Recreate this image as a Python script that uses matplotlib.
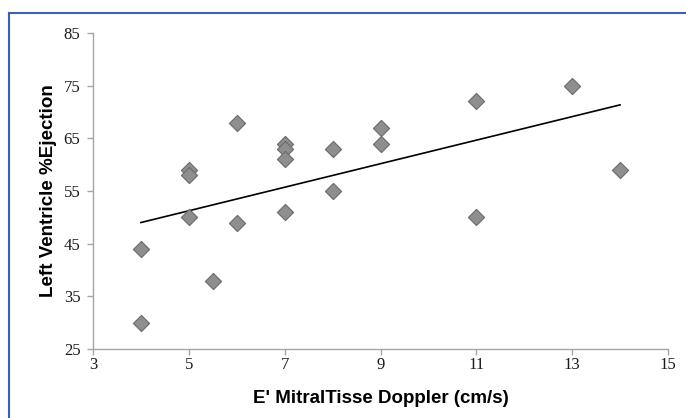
import numpy as np
import matplotlib
matplotlib.use("Agg")
import matplotlib.pyplot as plt
from matplotlib.lines import Line2D

# Data
e_mitral = [4, 4, 5, 5, 5, 5.5, 6, 6, 7, 7, 7, 7, 8, 8, 9, 9, 11, 11, 13, 14]
lv_ef = [44, 30, 59, 58, 50, 38, 68, 49, 64, 63, 61, 51, 63, 55, 67, 64, 72, 50, 75, 59]
x_ticks = [3, 5, 7, 9, 11, 13, 15]
y_ticks = [25, 35, 45, 55, 65, 75, 85]

fig = plt.figure(figsize=(6.86, 4.18), dpi=100)
ax = fig.add_axes([93/686, 1-349/418, (668-93)/686, (349-33)/418])

ax.scatter(e_mitral, lv_ef, marker='D', s=68, facecolor='#8e8e8e',
           edgecolor='#6a6a6a', linewidth=0.8, zorder=3)

# linear trendline
coef = np.polyfit(e_mitral, lv_ef, 1)
xt = np.array([min(e_mitral), max(e_mitral)])
ax.plot(xt, np.polyval(coef, xt), color='black', linewidth=1.2, zorder=2)

ax.set_xlim(3, 15)
ax.set_ylim(25, 85)
ax.set_xticks(x_ticks)
ax.set_yticks(y_ticks)
for s in ['top', 'right']:
    ax.spines[s].set_visible(False)
for s in ['left', 'bottom']:
    ax.spines[s].set_color('#a6a6a6')
    ax.spines[s].set_linewidth(1.0)
ax.tick_params(direction='out', length=4, width=1.0, color='#a6a6a6',
               labelsize=12, labelcolor='#1a1a1a')
ax.tick_params(axis='x', pad=2)
ax.tick_params(axis='y', pad=5)
for lab in ax.get_xticklabels() + ax.get_yticklabels():
    lab.set_fontfamily('Liberation Serif')

ax.set_xlabel("E' MitralTisse Doppler (cm/s)", fontfamily='Liberation Sans',
              fontweight='bold', fontsize=13.5, labelpad=12)
ax.set_ylabel("Left Ventricle %Ejection", fontfamily='Liberation Sans',
              fontweight='bold', fontsize=13.5, labelpad=5)

# blue frame (left and top edges visible)
fig.add_artist(Line2D([9/686, 9/686], [0, 1-13/418], transform=fig.transFigure,
                      color='#3c5fae', linewidth=1.5))
fig.add_artist(Line2D([9/686, 1], [1-13/418, 1-13/418], transform=fig.transFigure,
                      color='#3c5fae', linewidth=1.5))

fig.savefig('out.png', dpi=100)
